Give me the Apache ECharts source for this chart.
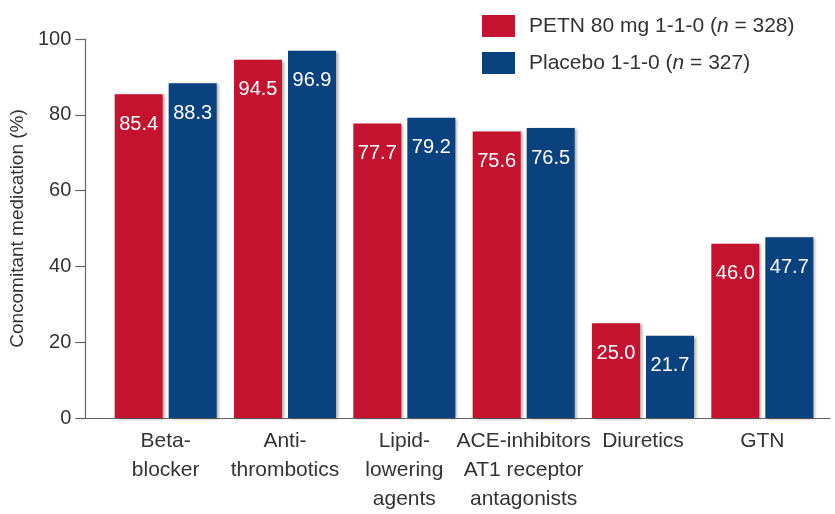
<!DOCTYPE html>
<html>
<head>
<meta charset="utf-8">
<script src="https://cdn.jsdelivr.net/npm/echarts@6/dist/echarts.min.js"></script>
<style>
  html, body { margin: 0; padding: 0; background: #fff; }
  #chart { width: 835px; height: 514px; }
</style>
</head>
<body>
<div id="chart"></div>
<script>
// Medication classes shown along the x axis
const categories = [
  'Beta-\nblocker',
  'Anti-\nthrombotics',
  'Lipid-\nlowering\nagents',
  'ACE-inhibitors\nAT1 receptor\nantagonists',
  'Diuretics',
  'GTN'
];
// Share of patients on each medication (%)
const petnValues = [85.4, 94.5, 77.7, 75.6, 25.0, 46.0];
const placeboValues = [88.3, 96.9, 79.2, 76.5, 21.7, 47.7];
const yTicks = { min: 0, max: 100, interval: 20 };

const FONT = '"Liberation Sans", Arial, Helvetica, sans-serif';
const TEXT = '#333333';
const AXIS = '#666666';
const RED = '#c4122f';
const BLUE = '#0a4280';

const barShadow = {
  shadowColor: 'rgba(0,0,0,0.35)',
  shadowBlur: 3,
  shadowOffsetX: 2,
  shadowOffsetY: 1
};

const valueLabel = {
  show: true,
  position: 'insideTop',
  distance: 20,
  color: '#ffffff',
  fontFamily: FONT,
  fontSize: 20,
  formatter: p => p.value.toFixed(1)
};

const chart = echarts.init(document.getElementById('chart'), null, { renderer: 'canvas' });

chart.setOption({
  animation: false,
  textStyle: { fontFamily: FONT, color: TEXT },
  legend: {
    orient: 'vertical',
    left: 477,
    top: 10,
    icon: 'rect',
    itemWidth: 33,
    itemHeight: 22,
    itemGap: 15,
    selectedMode: false,
    textStyle: {
      fontFamily: FONT,
      fontSize: 21,
      color: TEXT,
      padding: [0, 0, 0, 9],
      rich: {
        i: { fontFamily: FONT, fontSize: 21, fontStyle: 'italic', color: TEXT }
      }
    },
    formatter: name => name === 'PETN'
      ? 'PETN 80 mg 1-1-0 ({i|n} = 328)'
      : 'Placebo 1-1-0 ({i|n} = 327)',
    data: ['PETN', 'Placebo']
  },
  grid: [
    // frame: y axis and the full-width baseline
    { left: 80, right: 5, top: 39, bottom: 96 },
    // bars
    { left: 106, right: 13, top: 39, bottom: 96 }
  ],
  xAxis: [
    {
      gridIndex: 0,
      type: 'category',
      data: [''],
      axisLine: { show: true, lineStyle: { color: AXIS, width: 1.2 } },
      axisTick: { show: false },
      axisLabel: { show: false }
    },
    {
      gridIndex: 1,
      type: 'category',
      data: categories,
      axisLine: { show: false },
      axisTick: { show: false },
      axisLabel: {
        color: TEXT,
        fontFamily: FONT,
        fontSize: 21,
        lineHeight: 29,
        margin: 9,
        interval: 0
      }
    }
  ],
  yAxis: [
    {
      gridIndex: 0,
      type: 'value',
      min: yTicks.min,
      max: yTicks.max,
      interval: yTicks.interval,
      name: 'Concomitant medication (%)',
      nameLocation: 'middle',
      nameGap: 56,
      nameTextStyle: { fontFamily: FONT, fontSize: 19, color: TEXT },
      axisLine: { show: true, lineStyle: { color: AXIS, width: 1.2 } },
      axisTick: { show: true, length: 10, lineStyle: { color: AXIS, width: 1.2 } },
      axisLabel: { color: TEXT, fontFamily: FONT, fontSize: 20, margin: 14 },
      splitLine: { show: false }
    },
    {
      gridIndex: 1,
      type: 'value',
      min: yTicks.min,
      max: yTicks.max,
      interval: yTicks.interval,
      show: false,
      splitLine: { show: false }
    }
  ],
  series: [
    {
      name: 'PETN',
      type: 'bar',
      xAxisIndex: 1,
      yAxisIndex: 1,
      data: petnValues,
      barWidth: 48,
      barGap: '12.5%',
      itemStyle: Object.assign({ color: RED }, barShadow),
      label: valueLabel
    },
    {
      name: 'Placebo',
      type: 'bar',
      xAxisIndex: 1,
      yAxisIndex: 1,
      data: placeboValues,
      barWidth: 48,
      barGap: '12.5%',
      itemStyle: Object.assign({ color: BLUE }, barShadow),
      label: valueLabel
    }
  ]
});
</script>
</body>
</html>
